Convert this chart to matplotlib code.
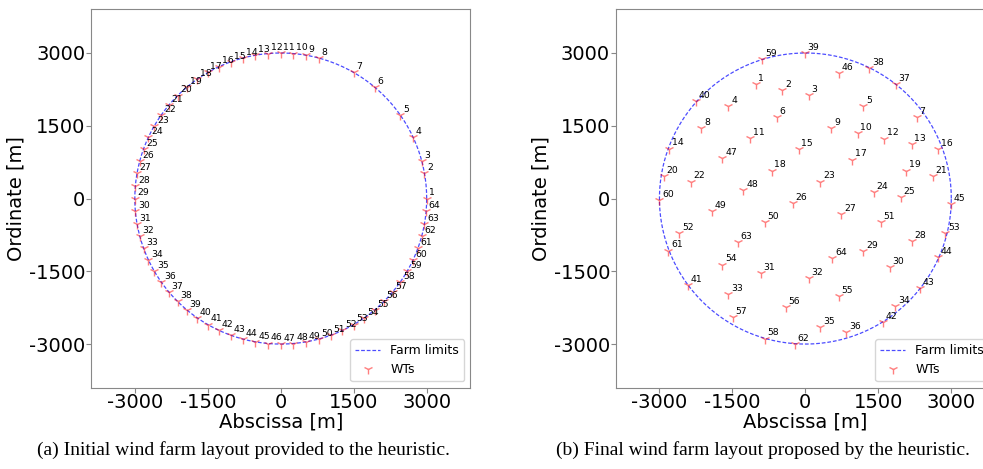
import numpy as np
import matplotlib
matplotlib.use("Agg")
import matplotlib.pyplot as plt

plt.rcParams['font.family'] = ['DejaVu Sans']
plt.rcParams['axes.unicode_minus'] = False

# ---- data ----
radius = 3000  # farm limit (m)

# initial layout: turbines on the border, angle (deg) of each WT 1..64
init_angles = [0, 10, 15, 25, 35, 50, 60, 75, 80, 85,
               90, 95, 100, 105, 110, 115, 120, 125, 130, 135,
               140, 145, 150, 155, 160, 165, 170, 175, 180, 185,
               190, 195, 200, 205, 210, 215, 220, 225, 230, 235,
               240, 245, 250, 255, 260, 265, 270, 275, 280, 285,
               290, 295, 300, 305, 310, 315, 320, 325, 330, 335,
               340, 345, 350, 355]

# final layout (m), WT 1..64
final_x = [-1025, -474, 74, -1582, 1188, -592, 2289, -2138, 536, 1072,
           -1134, 1621, 2186, -2798, -138, 2734, 961, -695, 2068, -2916,
           2619, -2351, 309, 1408, 1959, -256, 742, 2186, 1188, 1738,
           -922, 68, -1588, 1848, 309, 845, 1856, 1311, -14, -2248,
           -2413, 1588, 2357, 2722, 2990, 687, -1705, -1272, -1926, -833,
           1553, -2592, 2879, -1711, 693, -406, -1493, -839, -887, -3000,
           -2819, -221, -1390, 557]
final_y = [2351, 2233, 2124, 1903, 1903, 1676, 1676, 1458, 1458, 1355,
           1243, 1237, 1128, 1031, 1025, 1025, 804, 577, 577, 460,
           460, 351, 351, 130, 27, -89, -315, -880, -1087, -1417,
           -1532, -1635, -1965, -2221, -2646, -2749, 2365, 2695, 3000, 2006,
           -1788, -2551, -1841, -1202, -113, 2578, 839, 171, -262, -489,
           -489, -707, -707, -1361, -2015, -2233, -2448, -2887, 2881, -27,
           -1072, -2996, -901, -1223]

ticks = [-3000, -1500, 0, 1500, 3000]
captions = ["(a) Initial wind farm layout provided to the heuristic.",
            "(b) Final wind farm layout proposed by the heuristic."]

ang = np.deg2rad(init_angles)
init_x = radius * np.cos(ang)
init_y = radius * np.sin(ang)

t = np.linspace(0, 2 * np.pi, 400)
circ_x = radius * np.cos(t)
circ_y = radius * np.sin(t)

# ---- figure ----
fig = plt.figure(figsize=(9.83, 4.69), dpi=100)
ax1 = fig.add_axes([0.0926, 0.1733, 0.386, 0.8068])
ax2 = fig.add_axes([0.6263, 0.1733, 0.386, 0.8068])

for ax, xs, ys in [(ax1, init_x, init_y), (ax2, final_x, final_y)]:
    ax.plot(circ_x, circ_y, '--', color='blue', linewidth=0.9, alpha=0.7,
            dashes=(3, 1.5), label='Farm limits')
    ax.plot(xs, ys, '1', color='red', markersize=7, alpha=0.5,
            markeredgewidth=1.0, linestyle='none', label='WTs')
    for i in range(len(xs)):
        ax.text(xs[i] + 55, ys[i] + 25, str(i + 1), fontsize=6.7,
                ha='left', va='bottom')
    ax.set_xlim(-3900, 3900)
    ax.set_ylim(-3900, 3900)
    ax.set_xticks(ticks)
    ax.set_yticks(ticks)
    ax.tick_params(labelsize=14, color='#888888', length=3.5, pad=0.5)
    for sp in ax.spines.values():
        sp.set_color('#888888')
    ax.set_xlabel('Abscissa [m]', fontsize=14, labelpad=0)
    ax.set_ylabel('Ordinate [m]', fontsize=14, labelpad=2.5)
    ax.legend(loc='lower right', fontsize=9)

fig.text(0.248, 0.03, captions[0], family='Liberation Serif', fontsize=14,
         ha='center')
fig.text(0.776, 0.03, captions[1], family='Liberation Serif', fontsize=14,
         ha='center')

fig.savefig('out.png', dpi=100)
